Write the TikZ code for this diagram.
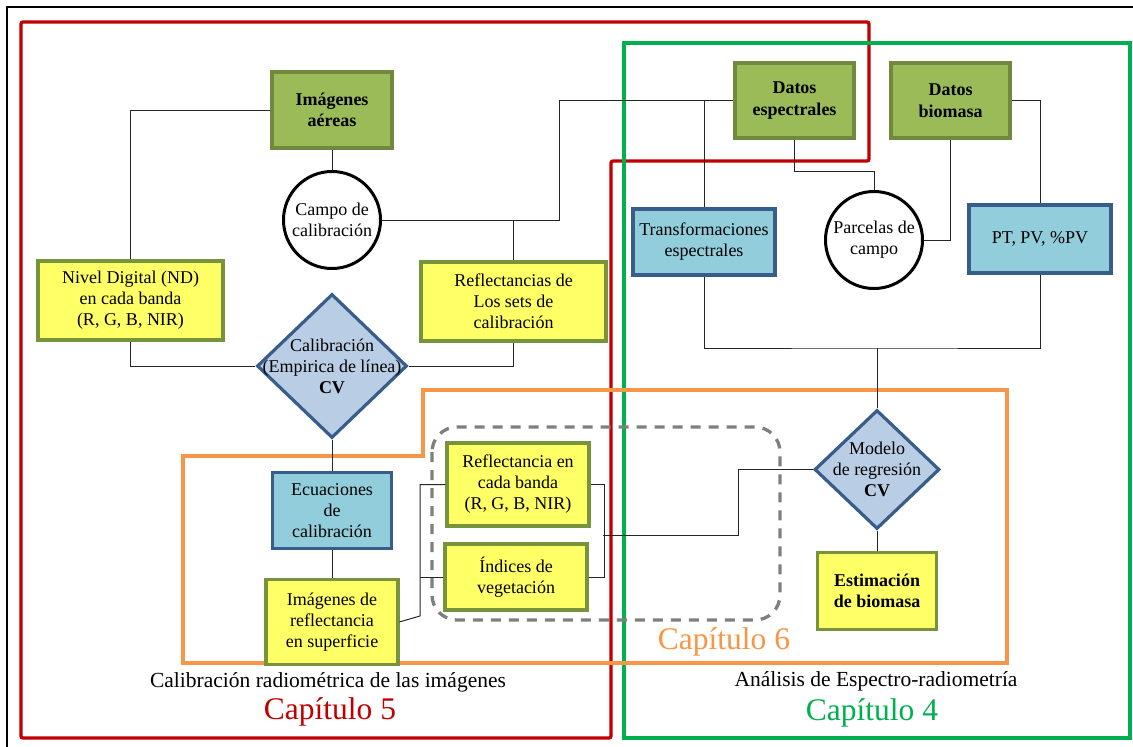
\documentclass[tikz,border=0pt]{standalone}
\usepackage{fontspec}
\setmainfont{Liberation Serif}
\usepackage{xcolor}
\usepackage{tikz}
\usetikzlibrary{positioning,shapes.geometric}
\definecolor{olivefill}{HTML}{9BBB59}
\definecolor{olivedraw}{HTML}{71893F}
\definecolor{yellfill}{HTML}{FFFF66}
\definecolor{yelldraw}{HTML}{77933C}
\definecolor{bluefill}{HTML}{92CDDC}
\definecolor{bluedraw}{HTML}{385D8A}
\definecolor{diafill}{HTML}{B9CDE5}
\definecolor{chapred}{HTML}{C00000}
\definecolor{chapgreen}{HTML}{00B050}
\definecolor{chaporange}{HTML}{F79646}
\definecolor{dashgray}{HTML}{7F7F7F}
\begin{document}
\begin{tikzpicture}[x=1pt, y=-1pt, font=\fontsize{18}{21}\selectfont,
	datbox/.style={draw=olivedraw, fill=olivefill, line width=3.2pt, minimum width=119pt, minimum height=75pt, inner sep=0pt, align=center, font=\fontsize{18}{21.5}\selectfont\bfseries},
	ybox/.style={draw=yelldraw, fill=yellfill, line width=3.2pt, inner sep=0pt, align=center},
	bbox/.style={draw=bluedraw, fill=bluefill, line width=3.2pt, inner sep=0pt, align=center},
	dec/.style={diamond, draw=bluedraw, fill=diafill, line width=3.2pt, inner sep=0pt},
	field/.style={circle, draw, fill=white, line width=3pt, minimum size=97pt, inner sep=0pt, align=center},
	link/.style={draw=black!85, line width=1pt},
	frame/.style={line width=3.3pt},
	capt/.style={font=\fontsize{21.5}{25}\selectfont},
	chap/.style={font=\fontsize{31.5}{36}\selectfont}]
		\useasboundingbox (0,0) rectangle (1133,747);
		\draw[line width=2pt] (7,747) -- (7,7) -- (1133,7);
		\draw[frame, chapred, rounded corners=2pt] (21,22) -- (869,22) -- (869,161) -- (611,161) -- (611,738) -- (21,738) -- cycle;
		\draw[frame, chapgreen] (624,43) rectangle (1130,738);
		\draw[frame, chaporange] (183,456) -- (423,456) -- (423,390) -- (1007,390) -- (1007,663) -- (183,663) -- cycle;
		\draw[frame, dashgray, dash pattern=on 10pt off 8pt, rounded corners=25pt] (432,427) rectangle (780,620);

		\node[datbox, minimum width=120pt, minimum height=76pt] (aereas) at (332,110) {Imágenes\\aéreas};
		\node[field] (campo) at (332,220) {Campo de\\calibración};
		\node[ybox, minimum width=185pt, minimum height=79pt] (nivel) at (130.5,300.5) {Nivel Digital (ND)\\en cada banda\\(R, G, B, NIR)};
		\node[ybox, minimum width=185pt, minimum height=79pt] (reflsets) at (513.5,301.5) {Reflectancias de\\Los sets de\\calibración};
		\node[dec, minimum width=150pt, minimum height=144pt] (calib) at (332,366) {};
		\node[align=center, inner sep=0pt] (calibtxt) at (calib) {Calibración\\(Empirica de línea)\\\textbf{CV}};
		\node[bbox, minimum width=119pt, minimum height=76pt, below=31pt of calib] (ecuac) {Ecuaciones\\de\\calibración};
		\node[ybox, minimum width=132pt, minimum height=85pt, below=28pt of ecuac] (imgrefl) {Imágenes de\\reflectancia\\en superficie};
		\node[ybox, minimum width=142pt, minimum height=83pt] (reflbanda) at (518,484.5) {Reflectancia en\\cada banda\\(R, G, B, NIR)};
		\node[ybox, minimum width=142pt, minimum height=66pt] (indices) at (516,577) {Índices de\\vegetación};

		\node[datbox] (espect) at (794.5,100.5) {Datos\\espectrales};
		\node[datbox] (biomasa) at (950.5,100.5) {Datos\\biomasa};
		\node[field] (parcelas) at (874,240) {Parcelas de\\campo};
		\node[bbox, minimum width=142pt, minimum height=66pt] (transf) at (704,242) {Transformaciones\\espectrales};
		\node[bbox, minimum width=142pt, minimum height=68pt] (ptpv) at (1040,239) {PT, PV, \%PV};
		\node[dec, minimum width=125pt, minimum height=119pt] (modelo) at (877,469.5) {};
		\node[align=center, inner sep=0pt] (modelotxt) at (modelo) {Modelo\\de regresión\\\textbf{CV}};
		\node[ybox, minimum width=119pt, minimum height=77pt, below=20pt of modelo, font=\fontsize{18}{21.5}\selectfont\bfseries] (estim) {Estimación\\de biomasa};

		\coordinate (j1) at (559,220);
		\coordinate (j2) at (420,616);
		\coordinate (j3) at (603,535);
		\coordinate (j4) at (738,535);
		\coordinate (j5) at (874,171);
		\coordinate (j6) at (877,348);

		\draw[link] (aereas.west) -| (nivel.north);
		\draw[link] (aereas) -- (campo);
		\draw[link] (campo.east) -- (j1) |- (espect.west);
		\draw[link] (reflsets.north) -- (reflsets.north |- campo.east);
		\draw[link] (nivel.south) |- (calib.west);
		\draw[link] (reflsets.south) |- (calib.east);
		\draw[link] (calib) -- (ecuac);
		\draw[link] (ecuac) -- (imgrefl);
		\draw[link] (imgrefl.east) -- (j2) |- (reflbanda.west);
		\draw[link] (j2 |- indices.west) -- (indices.west);
		\draw[link] (reflbanda.east) -- ++(14,0) |- (indices.east);
		\draw[link] (j3) -- (j4) |- (modelo.west);
		\draw[link] (transf.north) -- (transf.north |- espect.west);
		\draw[link] (espect.south) |- (j5) -- (parcelas.north);
		\draw[link] (biomasa.south) |- (parcelas.east);
		\draw[link] (biomasa.east) -| (ptpv.north);
		\draw[link] (transf.south) |- (j6) -| (ptpv.south);
		\draw[link] (j6) -- (modelo.north);
		\draw[link] (modelo) -- (estim);

		\node[capt] (captcal) at (328,682) {Calibración radiométrica de las imágenes};
		\node[chap, text=chapred] (cap5) at (330,712) {Capítulo 5};
		\node[chap, text=chaporange] (cap6) at (724,642) {Capítulo 6};
		\node[capt] (captesp) at (876,681) {Análisis de Espectro-radiometría};
		\node[chap, text=chapgreen] (cap4) at (872,713) {Capítulo 4};
	\end{tikzpicture}
\end{document}
